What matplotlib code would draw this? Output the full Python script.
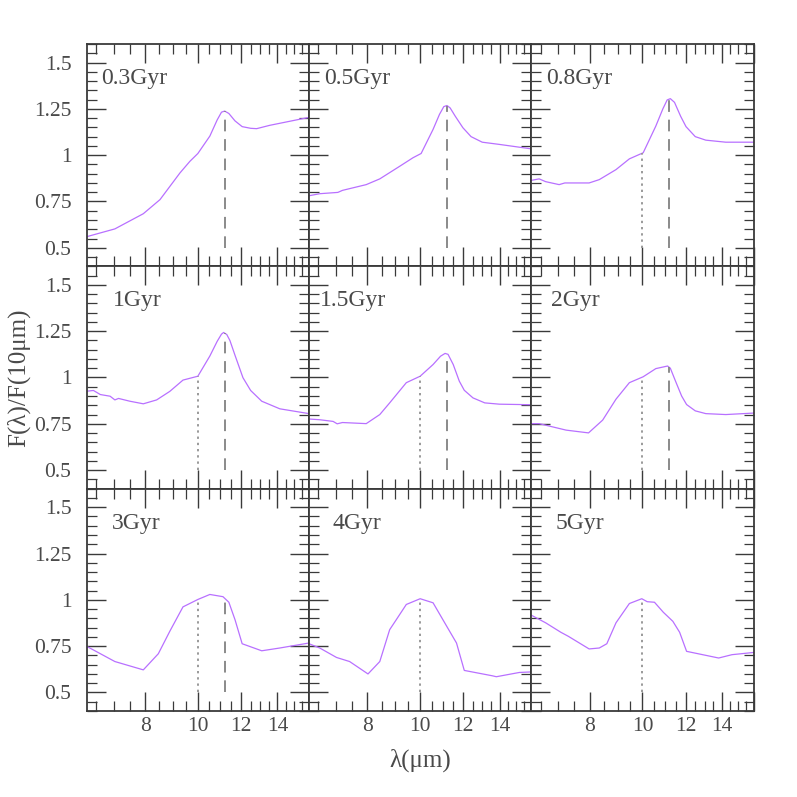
import numpy as np
import matplotlib
matplotlib.use("Agg")
import matplotlib.pyplot as plt
from matplotlib.ticker import FixedLocator, FuncFormatter, NullFormatter

plt.rcParams['font.family'] = ['Liberation Serif', 'DejaVu Serif']

# ---------------- data ----------------
ages = ["0.3Gyr", "0.5Gyr", "0.8Gyr", "1Gyr", "1.5Gyr", "2Gyr", "3Gyr", "4Gyr", "5Gyr"]

wl_03 = [6.25, 7.04, 7.94, 8.52, 9.27, 9.67, 10.0, 10.52, 10.85, 11.05, 11.2, 11.4, 11.7, 12.06, 12.5, 12.82, 13.55, 16.0]
fl_03 = [0.56, 0.602, 0.684, 0.76, 0.904, 0.967, 1.009, 1.103, 1.19, 1.232, 1.238, 1.225, 1.185, 1.154, 1.145, 1.143, 1.161, 1.204]

wl_05 = [6.25, 6.54, 7.06, 7.2, 7.96, 8.43, 9.17, 9.70, 10.04, 10.56, 10.85, 11.05, 11.2, 11.35, 11.6, 11.98, 12.4, 13.0, 13.98, 16.0]
fl_05 = [0.781, 0.792, 0.799, 0.81, 0.841, 0.872, 0.94, 0.986, 1.009, 1.139, 1.22, 1.262, 1.268, 1.255, 1.21, 1.148, 1.10, 1.07, 1.058, 1.034]

wl_08 = [6.25, 6.46, 6.64, 7.03, 7.2, 7.98, 8.33, 8.94, 9.46, 10.03, 10.58, 10.9, 11.1, 11.25, 11.45, 11.75, 12.02, 12.5, 13.07, 14.22, 16.0]
fl_08 = [0.864, 0.872, 0.857, 0.841, 0.85, 0.85, 0.868, 0.922, 0.98, 1.013, 1.157, 1.25, 1.298, 1.305, 1.285, 1.21, 1.154, 1.10, 1.081, 1.07, 1.07]

wl_1 = [6.25, 6.43, 6.62, 6.90, 7.04, 7.15, 7.5, 7.94, 8.4, 8.88, 9.39, 10.0, 10.52, 10.85, 11.05, 11.15, 11.3, 11.45, 11.7, 12.1, 12.5, 13.1, 14.14, 16.0]
fl_1 = [0.926, 0.93, 0.908, 0.899, 0.879, 0.887, 0.872, 0.858, 0.879, 0.925, 0.986, 1.007, 1.116, 1.195, 1.234, 1.243, 1.232, 1.2, 1.12, 0.999, 0.93, 0.872, 0.831, 0.805]

wl_15 = [6.25, 6.54, 6.92, 7.04, 7.2, 7.96, 8.43, 8.79, 9.43, 10.0, 10.56, 10.9, 11.11, 11.25, 11.5, 11.8, 12.05, 12.5, 13.14, 13.98, 16.0]
fl_15 = [0.776, 0.772, 0.763, 0.75, 0.757, 0.751, 0.80, 0.863, 0.972, 1.007, 1.07, 1.115, 1.13, 1.125, 1.07, 0.98, 0.931, 0.89, 0.863, 0.856, 0.853]

wl_2 = [6.25, 6.46, 7.24, 7.96, 8.45, 8.94, 9.46, 10.03, 10.58, 11.12, 11.25, 11.5, 11.8, 12.05, 12.5, 13.07, 14.22, 16.0]
fl_2 = [0.751, 0.751, 0.716, 0.701, 0.77, 0.883, 0.972, 1.004, 1.048, 1.062, 1.05, 0.98, 0.90, 0.854, 0.82, 0.805, 0.80, 0.808]

wl_3 = [6.25, 7.04, 7.94, 8.46, 8.88, 9.39, 10.0, 10.52, 11.12, 11.4, 11.7, 12.06, 13.1, 14.14, 16.0]
fl_3 = [0.749, 0.667, 0.622, 0.709, 0.83, 0.962, 1.002, 1.029, 1.017, 0.987, 0.893, 0.763, 0.725, 0.74, 0.767]

wl_4 = [6.25, 6.54, 7.02, 7.42, 8.02, 8.43, 8.79, 9.04, 9.43, 10.0, 10.56, 11.23, 11.66, 12.05, 13.57, 13.8, 15.21, 16.0]
fl_4 = [0.763, 0.74, 0.689, 0.667, 0.60, 0.667, 0.839, 0.893, 0.975, 1.006, 0.984, 0.849, 0.767, 0.619, 0.59, 0.585, 0.608, 0.611]

wl_5 = [6.25, 6.64, 7.08, 7.31, 7.98, 8.33, 8.6, 8.94, 9.46, 9.97, 10.2, 10.52, 10.92, 11.37, 11.7, 12.05, 13.8, 14.6, 16.0]
fl_5 = [0.917, 0.876, 0.825, 0.803, 0.735, 0.74, 0.763, 0.876, 0.98, 1.006, 0.99, 0.987, 0.933, 0.884, 0.825, 0.722, 0.686, 0.704, 0.716]

wavelengths = [wl_03, wl_05, wl_08, wl_1, wl_15, wl_2, wl_3, wl_4, wl_5]
fluxes = [fl_03, fl_05, fl_08, fl_1, fl_15, fl_2, fl_3, fl_4, fl_5]

# feature markers: dotted at 10 um, dashed at 11.2 um
dotted_on = [False, False, True, True, True, True, True, True, True]
dashed_on = [True, True, True, True, True, True, True, False, False]
feat_dot = 10.0
feat_dash = 11.2
marker_base = 0.5

x_ticks_major = [6, 8, 10, 12, 14, 16]
x_ticks_labels = [8, 10, 12, 14]
y_ticks_labeled = [0.5, 0.75, 1.0, 1.25, 1.5]

# ---------------- style ----------------
label_xfrac = [0.063, 0.067, 0.067, 0.118, 0.048, 0.088, 0.114, 0.107, 0.108]
line_color = '#b870ff'
frame_color = '#3a3a3a'
text_color = '#4a4a4a'

fig = plt.figure(figsize=(7.97, 7.97), dpi=100)
gs = fig.add_gridspec(3, 3, left=0.1088, right=0.9456, top=0.9448, bottom=0.1079,
                      wspace=0, hspace=0)

for i in range(9):
    r, c = divmod(i, 3)
    ax = fig.add_subplot(gs[r, c])
    wl = np.array(wavelengths[i])
    fl = np.array(fluxes[i])
    ax.plot(wl, fl, color=line_color, lw=0.9)
    if dotted_on[i]:
        ytop = np.interp(np.log(feat_dot), np.log(wl), fl)
        ax.plot([feat_dot, feat_dot], [marker_base, ytop], color='#9a9a9a', lw=1.4,
                linestyle=(0, (1.2, 2.0)))
    if dashed_on[i]:
        ytop = np.interp(np.log(feat_dash), np.log(wl), fl)
        ax.plot([feat_dash, feat_dash], [marker_base, ytop], color='#8a8a8a', lw=1.4,
                linestyle=(0, (6, 4)))

    ax.set_xscale('log')
    ax.set_xlim(6.25, 16.0)
    ax.set_ylim(0.4, 1.6)

    ax.xaxis.set_major_locator(FixedLocator(x_ticks_major))
    ax.xaxis.set_minor_locator(FixedLocator(np.arange(6.0, 16.01, 0.5)))
    ax.yaxis.set_major_locator(FixedLocator([0.5, 0.75, 1.0, 1.25, 1.5]))
    ax.yaxis.set_minor_locator(FixedLocator(np.arange(0.4, 1.601, 0.05)))
    ax.xaxis.set_minor_formatter(NullFormatter())

    ax.tick_params(which='both', direction='in', top=True, right=True,
                   color=frame_color, labelcolor=text_color, labelsize=15.5)
    ax.tick_params(which='major', length=14, width=1.0)
    ax.tick_params(which='minor', length=7, width=0.9)
    ax.tick_params(axis='x', which='major', pad=4)
    ax.tick_params(axis='y', which='major', pad=11)

    if r == 2:
        ax.xaxis.set_major_formatter(FuncFormatter(
            lambda v, p: ('%g' % v) if round(v) in x_ticks_labels else ''))
    else:
        ax.xaxis.set_major_formatter(NullFormatter())
    if c == 0:
        ax.yaxis.set_major_formatter(FuncFormatter(
            lambda v, p: ('%g' % v) if any(abs(v - t) < 1e-6 for t in y_ticks_labeled) else ''))
    else:
        ax.yaxis.set_major_formatter(NullFormatter())

    for sp in ax.spines.values():
        sp.set_color(frame_color)
        sp.set_linewidth(1.3)

    ax.text(label_xfrac[i], 0.845, ages[i], transform=ax.transAxes, fontsize=17,
            color=text_color, ha='left', va='center')

fig.text(0.023, 0.526, 'F(λ)/F(10μm)', rotation=90, fontsize=18, color=text_color,
         ha='center', va='center')
fig.text(0.527, 0.046, 'λ(μm)', fontsize=18, color=text_color, ha='center', va='center')

fig.savefig('out.png', dpi=100)
